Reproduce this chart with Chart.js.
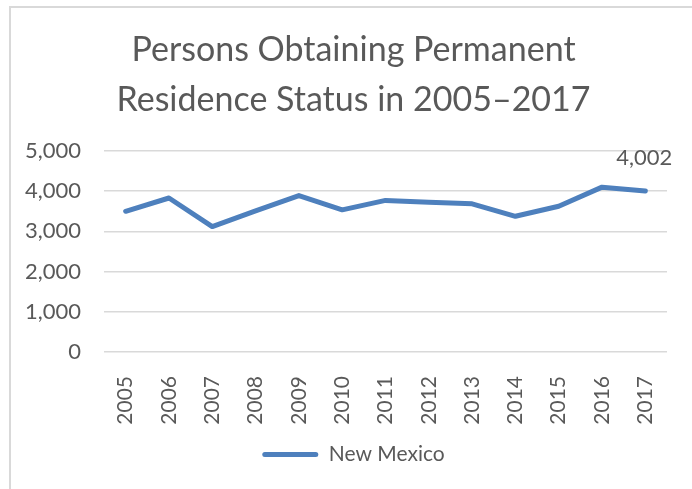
<!DOCTYPE html>
<html>
<head>
<meta charset="utf-8">
<script src="https://cdn.jsdelivr.net/npm/chart.js@4.4.0/dist/chart.umd.min.js"></script>
<style>
  html, body { margin: 0; padding: 0; background: #fff; overflow: hidden; }
  #frame {
    position: absolute; left: 9px; top: 6px;
    width: 800px; height: 600px;
    border: 2px solid #d9d9d9;
  }
  #wrap { position: absolute; left: 0; top: 0; width: 692px; height: 489px; }
</style>
</head>
<body>
<div id="frame"></div>
<div id="wrap"><canvas id="residenceChart"></canvas></div>
<script>
const years = ["2005", "2006", "2007", "2008", "2009", "2010", "2011",
  "2012", "2013", "2014", "2015", "2016", "2017"];
const newMexico = [3500, 3830, 3120, 3510, 3890, 3535, 3770,
  3725, 3685, 3375, 3625, 4100, 4002];
const yTicks = [0, 1000, 2000, 3000, 4000, 5000];

const textColor = "#595959";
const lineColor = "#4e80bd";
const fontFamily = "Lato, 'Open Sans', sans-serif";

// label over the last point only
const lastLabel = {
  id: "lastLabel",
  afterDatasetsDraw(chart) {
    const meta = chart.getDatasetMeta(0);
    const pt = meta.data[meta.data.length - 1];
    const ctx = chart.ctx;
    ctx.save();
    ctx.font = "22px " + fontFamily;
    ctx.fillStyle = textColor;
    ctx.textAlign = "center";
    ctx.textBaseline = "middle";
    const v = newMexico[newMexico.length - 1];
    ctx.fillText(v.toLocaleString("en-US"), pt.x - 1, pt.y - 33);
    ctx.restore();
  }
};

// the chart box in the original sits a bit to the right, so nudge title and legend
const nudgeBlocks = {
  id: "nudgeBlocks",
  afterLayout(chart) {
    [chart.titleBlock, chart.legend].forEach(b => {
      if (b) { b.left += 10; b.right += 10; }
    });
  }
};

const ctx = document.getElementById("residenceChart").getContext("2d");

new Chart(ctx, {
  type: "line",
  data: {
    labels: years,
    datasets: [
      {
        label: "New Mexico",
        data: newMexico,
        borderColor: lineColor,
        backgroundColor: lineColor,
        borderWidth: 5,
        borderCapStyle: "round",
        borderJoinStyle: "round",
        pointRadius: 0,
        tension: 0
      }
    ]
  },
  options: {
    responsive: true,
    maintainAspectRatio: false,
    animation: false,
    layout: {
      padding: { left: 20, right: 25, top: 0, bottom: 14 }
    },
    plugins: {
      title: {
        display: true,
        text: ["Persons Obtaining Permanent", "Residence Status in 2005–2017"],
        color: textColor,
        font: { family: fontFamily, size: 34, weight: "normal", lineHeight: 1.47 },
        padding: { top: 25, bottom: 26 }
      },
      legend: {
        position: "bottom",
        labels: {
          color: textColor,
          font: { family: fontFamily, size: 21 },
          boxWidth: 56,
          boxHeight: 5,
          useBorderRadius: true,
          borderRadius: 2.5,
          padding: 10,
          generateLabels: chart =>
            Chart.defaults.plugins.legend.labels.generateLabels(chart)
              .map(item => ({ ...item, lineWidth: 0, fillStyle: lineColor }))
        }
      },
      tooltip: { enabled: false }
    },
    scales: {
      y: {
        min: 0,
        max: 5000,
        afterBuildTicks: scale => {
          scale.ticks = yTicks.map(v => ({ value: v }));
        },
        afterFit: scale => { scale.width = 84; },
        border: { display: false },
        grid: { color: "#d9d9d9", lineWidth: 1.5, drawTicks: false },
        ticks: {
          color: textColor,
          font: { family: fontFamily, size: 22 },
          padding: 23,
          callback: v => v.toLocaleString("en-US")
        }
      },
      x: {
        offset: true,
        afterFit: scale => { scale.height = 82; },
        border: { display: false },
        grid: { display: false },
        ticks: {
          color: textColor,
          font: { family: fontFamily, size: 21 },
          minRotation: 90,
          maxRotation: 90,
          padding: 16
        }
      }
    }
  },
  plugins: [lastLabel, nudgeBlocks]
});
</script>
</body>
</html>
